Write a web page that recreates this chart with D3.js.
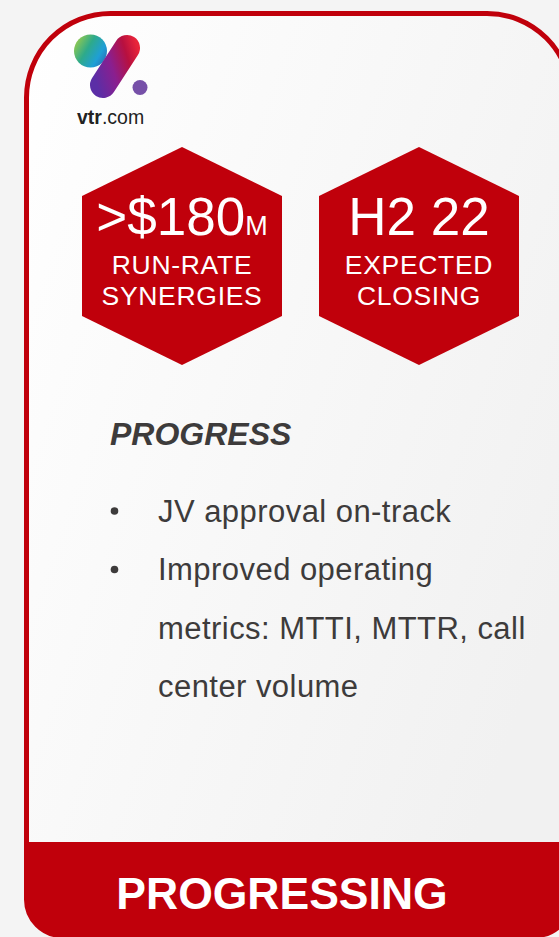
<!DOCTYPE html>
<html>
<head>
<meta charset="utf-8">
<script src="https://cdn.jsdelivr.net/npm/d3@7"></script>
<style>
  body { margin: 0; background: #f4f4f4; }
  svg { display: block; }
  text { font-family: Arial, "Liberation Sans", sans-serif; }
</style>
</head>
<body>
<div id="card"></div>
<script>
// headline figures shown in the two hexagons
var hexValues = [">$180", "H2 22"];
var hexSuffixes = ["M", ""];
var hexLabels = [["RUN-RATE", "SYNERGIES"], ["EXPECTED", "CLOSING"]];

// progress list
var progressTitle = "PROGRESS";
var bulletItems = [
  ["JV approval on-track"],
  ["Improved operating", "metrics: MTTI, MTTR, call", "center volume"]
];
var statusLabel = "PROGRESSING";

var svgWidth = 559;
var svgHeight = 937;
var red = "#c0000b";
var ink = "#3d3b3b";

var svg = d3.select("#card")
  .append("svg")
  .attr("width", svgWidth)
  .attr("height", svgHeight);

var defs = svg.append("defs");

// soft background shading inside the card
var bg = defs.append("linearGradient")
  .attr("id", "bg")
  .attr("x1", "0%").attr("y1", "0%")
  .attr("x2", "100%").attr("y2", "60%");
bg.append("stop").attr("offset", "0%").attr("stop-color", "#ffffff");
bg.append("stop").attr("offset", "100%").attr("stop-color", "#f1f1f1");

// card outline: big rounded top corners, smaller bottom ones
var L = 26.5, T = 13.5, R = 571, B = 935.5, rt = 84, rb = 36;
var cardPath = d3.path();
cardPath.moveTo(L + rt, T);
cardPath.lineTo(R - rt, T);
cardPath.arcTo(R, T, R, T + rt, rt);
cardPath.lineTo(R, B - rb);
cardPath.arcTo(R, B, R - rb, B, rb);
cardPath.lineTo(L + rb, B);
cardPath.arcTo(L, B, L, B - rb, rb);
cardPath.lineTo(L, T + rt);
cardPath.arcTo(L, T, L + rt, T, rt);
cardPath.closePath();

defs.append("clipPath").attr("id", "cardClip")
  .append("path").attr("d", cardPath.toString());

svg.append("path")
  .attr("d", cardPath.toString())
  .attr("fill", "url(#bg)");

// red status band at the bottom of the card
var bandTop = 842;
svg.append("rect")
  .attr("clip-path", "url(#cardClip)")
  .attr("x", 0)
  .attr("y", bandTop)
  .attr("width", svgWidth)
  .attr("height", svgHeight - bandTop + 10)
  .attr("fill", red);

svg.append("path")
  .attr("d", cardPath.toString())
  .attr("fill", "none")
  .attr("stroke", red)
  .attr("stroke-width", 5);

svg.append("text")
  .attr("x", 282)
  .attr("y", 909)
  .attr("text-anchor", "middle")
  .attr("font-size", "44.5px")
  .attr("font-weight", "bold")
  .attr("fill", "#ffffff")
  .text(statusLabel);

// vtr logo
var logo = svg.append("g");
var gBall = defs.append("linearGradient").attr("id", "ball")
  .attr("x1", "0%").attr("y1", "20%").attr("x2", "100%").attr("y2", "80%");
gBall.append("stop").attr("offset", "0%").attr("stop-color", "#9ccc4a");
gBall.append("stop").attr("offset", "40%").attr("stop-color", "#2eaa8a");
gBall.append("stop").attr("offset", "75%").attr("stop-color", "#1f9fd6");
gBall.append("stop").attr("offset", "100%").attr("stop-color", "#2a6fb5");

var gPill = defs.append("linearGradient").attr("id", "pill")
  .attr("gradientUnits", "userSpaceOnUse")
  .attr("x1", 92).attr("y1", 70).attr("x2", 140).attr("y2", 55);
gPill.append("stop").attr("offset", "0%").attr("stop-color", "#5b2ea6");
gPill.append("stop").attr("offset", "40%").attr("stop-color", "#8a1f8f");
gPill.append("stop").attr("offset", "75%").attr("stop-color", "#b8103f");
gPill.append("stop").attr("offset", "100%").attr("stop-color", "#e8243a");

logo.append("circle")
  .attr("cx", 90.5).attr("cy", 51).attr("r", 16.5)
  .attr("fill", "url(#ball)");
logo.append("line")
  .attr("x1", 127).attr("y1", 48)
  .attr("x2", 103).attr("y2", 85)
  .attr("stroke", "url(#pill)")
  .attr("stroke-width", 26)
  .attr("stroke-linecap", "round");
logo.append("circle")
  .attr("cx", 140).attr("cy", 87.5).attr("r", 7.5)
  .attr("fill", "#7650a8");

var logoText = logo.append("text")
  .attr("x", 77).attr("y", 124)
  .attr("font-size", "19.5px")
  .attr("fill", "#222222");
logoText.append("tspan").attr("font-weight", "bold").text("vtr");
logoText.append("tspan").text(".com");

// hexagons
var hexX = d3.scalePoint()
  .domain(d3.range(hexValues.length))
  .range([182, 419]);
var hexCy = 256, hexHalfW = 100, hexTip = 109, hexSide = 60;

function hexPoints(cx) {
  return [
    [cx, hexCy - hexTip], [cx + hexHalfW, hexCy - hexSide],
    [cx + hexHalfW, hexCy + hexSide], [cx, hexCy + hexTip],
    [cx - hexHalfW, hexCy + hexSide], [cx - hexHalfW, hexCy - hexSide]
  ].map(p => p.join(",")).join(" ");
}

var hexGroup = svg.selectAll(".hex")
  .data(hexValues)
  .enter()
  .append("g")
  .attr("class", "hex");

hexGroup.append("polygon")
  .attr("points", (d, i) => hexPoints(hexX(i)))
  .attr("fill", red);

var bigText = hexGroup.append("text")
  .attr("x", (d, i) => hexX(i))
  .attr("y", 235)
  .attr("text-anchor", "middle")
  .attr("fill", "#ffffff");
bigText.append("tspan")
  .attr("font-size", "53px")
  .text(d => d);
bigText.append("tspan")
  .attr("font-size", "27px")
  .text((d, i) => hexSuffixes[i]);

hexGroup.each(function(d, i) {
  d3.select(this).selectAll(".lbl")
    .data(hexLabels[i])
    .enter()
    .append("text")
    .attr("class", "lbl")
    .attr("x", hexX(i))
    .attr("y", (s, j) => 273.5 + j * 31.8)
    .attr("text-anchor", "middle")
    .attr("font-size", "26.5px")
    .attr("letter-spacing", "0.7px")
    .attr("fill", "#ffffff")
    .text(s => s);
});

// progress section
svg.append("text")
  .attr("x", 110)
  .attr("y", 445)
  .attr("font-size", "32px")
  .attr("font-weight", "bold")
  .attr("font-style", "italic")
  .attr("fill", ink)
  .text(progressTitle);

var lines = [];
bulletItems.forEach(function(item, i) {
  item.forEach(function(s, j) {
    lines.push({ text: s, first: j === 0 });
  });
});

var lineY = d3.scaleLinear()
  .domain([0, lines.length - 1])
  .range([521.5, 697]);

svg.selectAll(".line")
  .data(lines)
  .enter()
  .append("text")
  .attr("class", "line")
  .attr("x", 158)
  .attr("y", (d, i) => lineY(i))
  .attr("font-size", "31px")
  .attr("letter-spacing", "0.45px")
  .attr("fill", ink)
  .text(d => d.text);

svg.selectAll(".dot")
  .data(lines.filter(d => d.first))
  .enter()
  .append("circle")
  .attr("class", "dot")
  .attr("cx", 114.5)
  .attr("cy", d => lineY(lines.indexOf(d)) - 10.5)
  .attr("r", 3.8)
  .attr("fill", ink);
</script>
</body>
</html>
